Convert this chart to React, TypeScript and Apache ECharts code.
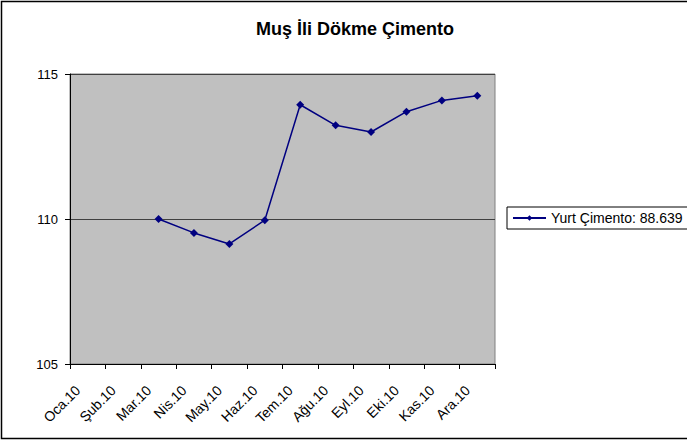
import React, { useEffect, useRef } from "react";
import * as echarts from "echarts";

const title = "Muş İli Dökme Çimento";
const categories = ["Oca.10", "Şub.10", "Mar.10", "Nis.10", "May.10", "Haz.10", "Tem.10", "Ağu.10", "Eyl.10", "Eki.10", "Kas.10", "Ara.10"];
const seriesName = "Yurt Çimento: 88.639";
const seriesValues: (number | null)[] = [null, null, 110.0, 109.52, 109.14, 109.96, 113.94, 113.23, 113.0, 113.7, 114.09, 114.25];
const yMin = 105;
const yMax = 115;
const yInterval = 5;

const FONT = "'Liberation Sans', Arial, sans-serif";

export default function App() {
  const ref = useRef<HTMLDivElement>(null);
  useEffect(() => {
    document.body.style.margin = "0";
    const chart = echarts.init(ref.current!, null, { renderer: "svg" });
    chart.setOption({
      animation: false,
      backgroundColor: "#ffffff",
      textStyle: { fontFamily: FONT },
      title: {
        text: title,
        left: 350,
        top: 15,
        textAlign: "center",
        textStyle: { fontFamily: FONT, fontSize: 18, fontWeight: "bold", color: "#000" },
      },
      graphic: [
        {
          type: "rect",
          shape: { x: 1.5, y: 1.5, width: 720, height: 437 },
          style: { fill: "none", stroke: "#000", lineWidth: 1.5 },
          silent: true,
          z: 100,
        },
      ],
      legend: {
        left: 507,
        top: 207,
        orient: "horizontal",
        borderColor: "#000",
        borderWidth: 1,
        padding: [4, 40, 4, 5],
        itemWidth: 33,
        itemHeight: 7,
        itemGap: 5,
        textStyle: { fontFamily: FONT, fontSize: 14, color: "#000" },
        data: [seriesName],
      },
      grid: {
        left: 70,
        top: 74,
        width: 425,
        height: 290,
        show: true,
        backgroundColor: "#C0C0C0",
        borderColor: "#808080",
        borderWidth: 1,
        containLabel: false,
      },
      xAxis: {
        type: "category",
        data: categories,
        boundaryGap: true,
        axisLine: { lineStyle: { color: "#000", width: 1 } },
        axisTick: { show: true, length: 5, inside: false, lineStyle: { color: "#000" } },
        axisLabel: {
          rotate: 45,
          fontSize: 14,
          color: "#000",
          margin: 14,
          padding: [0, 14, 0, 0],
          fontFamily: FONT,
          interval: 0,
        },
        splitLine: { show: false },
      },
      yAxis: {
        type: "value",
        min: yMin,
        max: yMax,
        interval: yInterval,
        axisLine: { show: true, lineStyle: { color: "#000", width: 1 } },
        axisTick: { show: true, length: 5, inside: false, lineStyle: { color: "#000" } },
        axisLabel: { fontSize: 13, color: "#000", margin: 12, fontFamily: FONT },
        splitLine: { show: true, lineStyle: { color: "#404040", width: 1 } },
      },
      series: [
        {
          name: seriesName,
          type: "line",
          data: seriesValues,
          connectNulls: false,
          color: "#000080",
          lineStyle: { color: "#000080", width: 1.5 },
          itemStyle: { color: "#000080" },
          symbol: "diamond",
          symbolSize: 8,
          showSymbol: true,
        },
      ],
    });
    return () => chart.dispose();
  }, []);
  return <div ref={ref} style={{ position: "absolute", left: 0, top: 0, width: 687, height: 442 }} />;
}
